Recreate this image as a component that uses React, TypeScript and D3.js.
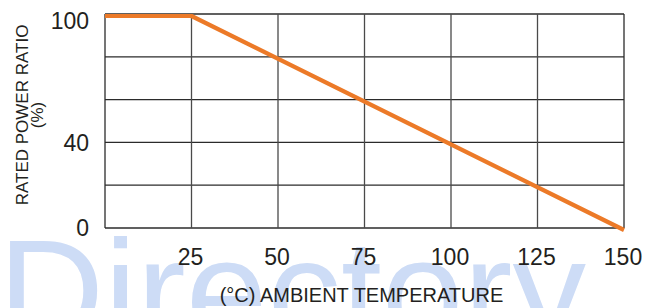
import React from "react";
import * as d3 from "d3";

// derating curve: rated power ratio (%) vs ambient temperature (°C)
const temps = [0, 25, 150];
const ratios = [100, 100, 0];

const xTicks = [25, 50, 75, 100, 125, 150];
const xGrid = [0, 25, 50, 75, 100, 125, 150];
const yGrid = [0, 20, 40, 60, 80, 100];
const yLabels = [0, 40, 100];

export default function App() {
  const width = 659;
  const height = 308;
  const margin = { left: 105, right: 35, top: 14, bottom: 80 };

  const x = d3
    .scaleLinear()
    .domain([0, 150])
    .range([margin.left, width - margin.right]);
  const y = d3
    .scaleLinear()
    .domain([0, 100])
    .range([height - margin.bottom, margin.top]);

  const pts = temps.map((t, i) => [t, ratios[i]] as [number, number]);
  const line = d3
    .line<[number, number]>()
    .x((d) => x(d[0]))
    .y((d) => y(d[1]));

  const font = "Liberation Sans, Arial, Helvetica, sans-serif";
  const textColor = "#231f20";

  return (
    <div style={{ position: "absolute", left: 0, top: 0 }}>
      <svg width={width} height={height} style={{ display: "block" }}>
        <rect width={width} height={height} fill="#fff" />
        {/* watermark */}
        <text
          x={-2}
          y={342}
          fontFamily={font}
          fontSize={147}
          fill="#cddcf6"
        >
          Directory
        </text>

        {/* grid */}
        <g stroke="#2b2b2b" strokeWidth={1.3}>
          {yGrid.map((v) => (
            <line key={"h" + v} x1={x(0)} x2={x(150)} y1={y(v)} y2={y(v)} />
          ))}
          {xGrid.map((v) => (
            <line key={"v" + v} x1={x(v)} x2={x(v)} y1={y(0)} y2={y(100)} stroke={v === 0 || v === 150 ? "#2b2b2b" : "#4a4a4a"} />
          ))}
        </g>

        {/* curve */}
        <path
          d={line(pts) ?? ""}
          transform="translate(0,2)"
          fill="none"
          stroke="#ec7a28"
          strokeWidth={4.2}
          strokeLinejoin="round"
        />

        {/* y tick labels */}
        <g fontFamily={font} fontSize={23} fill={textColor} textAnchor="end">
          {yLabels.map((v) => (
            <text key={v} x={89} y={Math.max(y(v), 21)} dy="0.36em">
              {v}
            </text>
          ))}
        </g>

        {/* x tick labels */}
        <g fontFamily={font} fontSize={23} fill={textColor} textAnchor="middle">
          {xTicks.map((v) => (
            <text key={v} x={x(v) - 1} y={265}>
              {v}
            </text>
          ))}
        </g>

        {/* axis titles */}
        <text
          x={(x(0) + x(150)) / 2 - 3}
          y={302}
          fontFamily={font}
          fontSize={20}
          fill={textColor}
          textAnchor="middle"
        >
          (°C) AMBIENT TEMPERATURE
        </text>
        <g
          transform={`translate(0,${(y(0) + y(100)) / 2 - 6}) rotate(-90)`}
          fontFamily={font}
          fontSize={17}
          fill={textColor}
          textAnchor="middle"
        >
          <text x={0} y={28}>
            RATED POWER RATIO
          </text>
          <text x={0} y={43}>
            (%)
          </text>
        </g>
      </svg>
    </div>
  );
}
